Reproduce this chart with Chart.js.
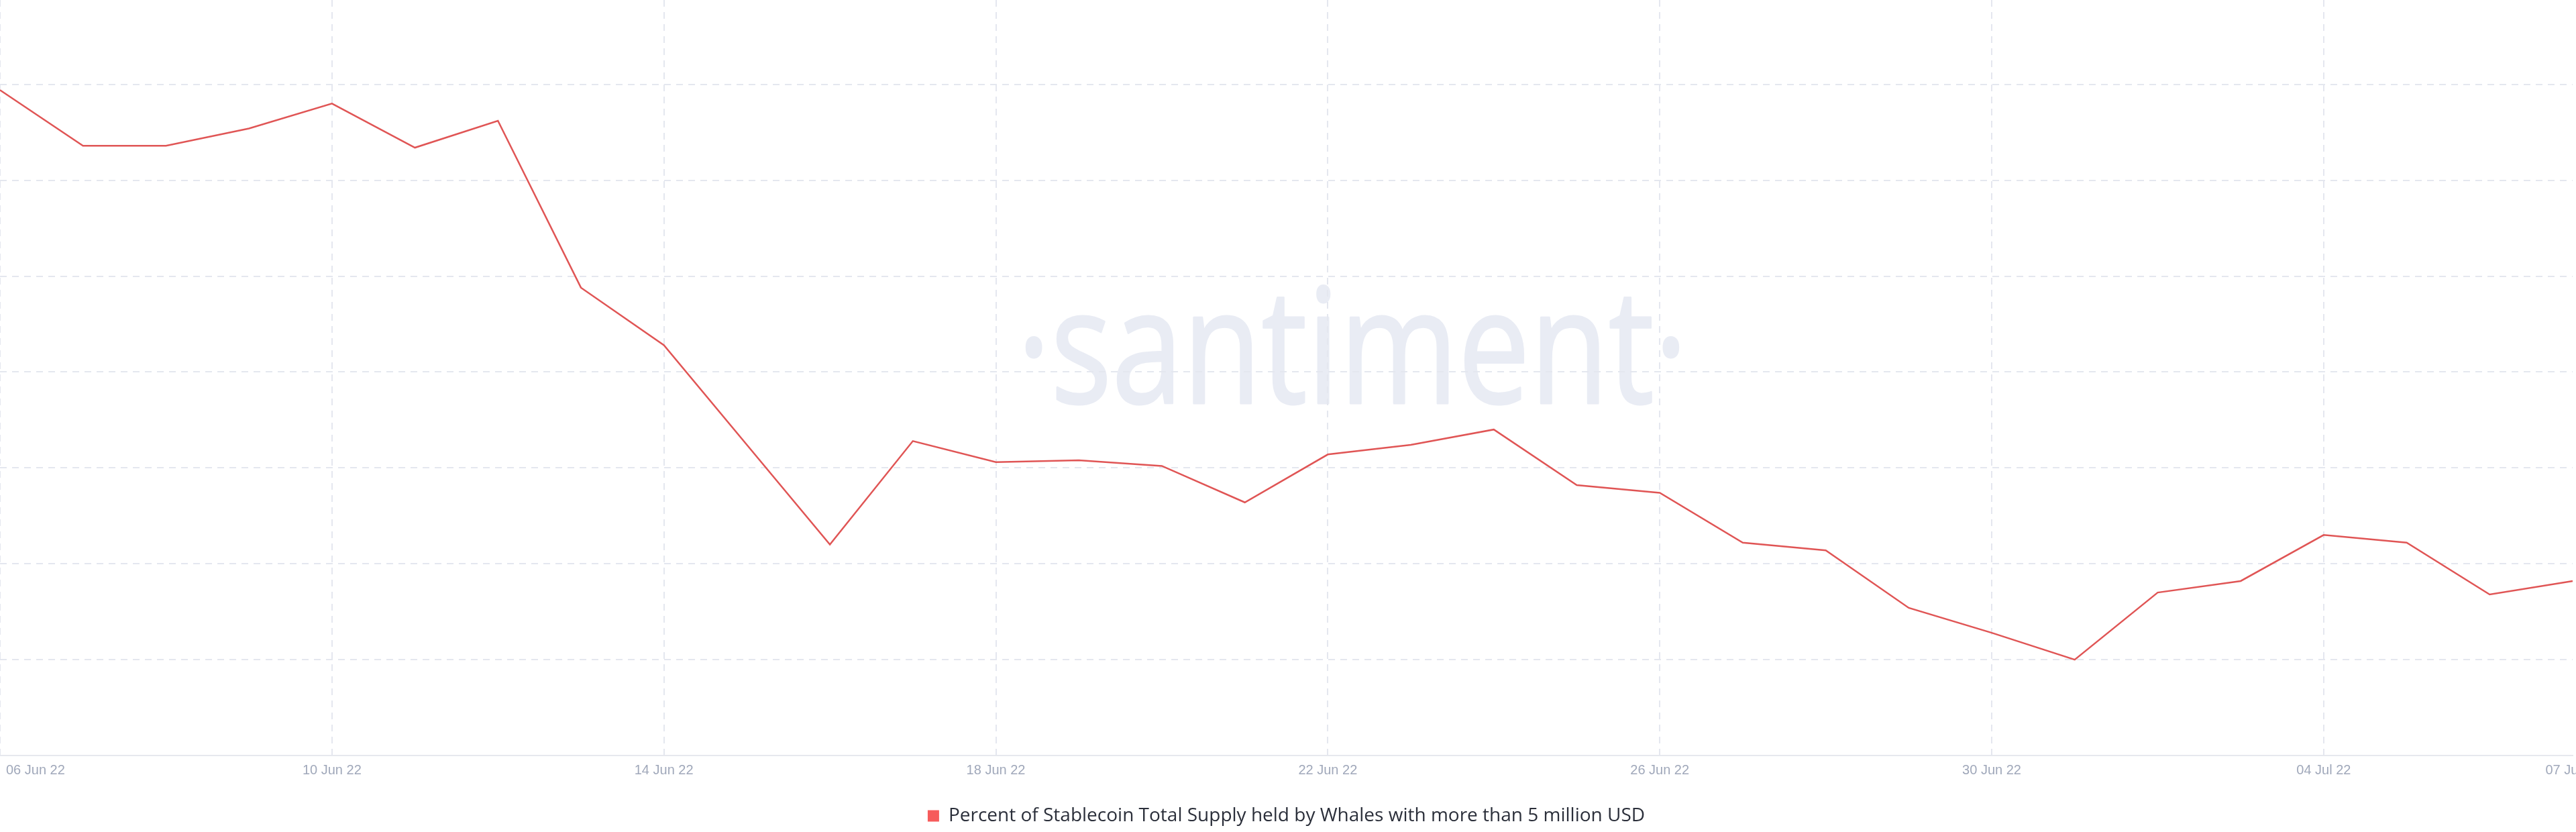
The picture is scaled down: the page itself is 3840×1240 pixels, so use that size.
<!DOCTYPE html>
<html>
<head>
<meta charset="utf-8">
<script src="https://cdn.jsdelivr.net/npm/chart.js@4.4.1/dist/chart.umd.min.js"></script>
<style>
    html, body { margin: 0; padding: 0; background: #ffffff; overflow: hidden; }
    #wrap { position: relative; width: 3840px; height: 1240px; overflow: hidden; }
    #chart { position: absolute; left: -60px; top: 0; }
</style>
</head>
<body>
<div id="wrap"><canvas id="chart" width="3960" height="1240"></canvas></div>
<script>
const dates = [
    "06 Jun 22", "07 Jun 22", "08 Jun 22", "09 Jun 22", "10 Jun 22", "11 Jun 22",
    "12 Jun 22", "13 Jun 22", "14 Jun 22", "15 Jun 22", "16 Jun 22", "17 Jun 22",
    "18 Jun 22", "19 Jun 22", "20 Jun 22", "21 Jun 22", "22 Jun 22", "23 Jun 22",
    "24 Jun 22", "25 Jun 22", "26 Jun 22", "27 Jun 22", "28 Jun 22", "29 Jun 22",
    "30 Jun 22", "01 Jul 22", "02 Jul 22", "03 Jul 22", "04 Jul 22", "05 Jul 22",
    "06 Jul 22", "07 Jul 22",
];

const whalePercent = [
    48.47, 48.18, 48.18, 48.27, 48.40, 48.17, 48.31, 47.44,
    47.14, 46.62, 46.10, 46.64, 46.53, 46.54, 46.51, 46.32,
    46.57, 46.62, 46.70, 46.41, 46.37, 46.11, 46.07, 45.77,
    45.64, 45.50, 45.85, 45.91, 46.15, 46.11, 45.84, 45.91,
];

const seriesLabel = "Percent of Stablecoin Total Supply held by Whales with more than 5 million USD";
const yMin = 45;
const yMax = 48.94;
const yStep = 0.5;
const labelEvery = 4;

const gridColor = "#e4e7ef";

const watermark = {
    id: "watermark",
    beforeDraw(chart) {
        const { ctx } = chart;
        ctx.save();
        ctx.font = "400 238px 'Open Sans'";
        ctx.fillStyle = "#e9ecf4";
        ctx.strokeStyle = "#e9ecf4";
        ctx.lineWidth = 3;
        ctx.lineJoin = "round";
        ctx.textAlign = "center";
        ctx.textBaseline = "alphabetic";
        const text = "·santiment·";
        const w = ctx.measureText(text).width;
        ctx.translate(2076, 601);
        ctx.scale(1000 / w, 1);
        ctx.fillText(text, 0, 0);
        ctx.strokeText(text, 0, 0);
        ctx.restore();

        // first date label sits left-aligned inside the plot
        const x = chart.scales.x;
        const items = x.getLabelItems();
        if (items.length) {
            items[0].options.textAlign = "left";
            items[0].options.translation[0] = x.left + 9;
        }
    },
};

new Chart(document.getElementById("chart"), {
    type: "line",
    data: {
        labels: dates,
        datasets: [
            {
                label: seriesLabel,
                data: whalePercent,
                borderColor: "#e05555",
                backgroundColor: "#f65b5b",
                borderWidth: 2.5,
                pointRadius: 0,
                tension: 0,
            },
        ],
    },
    options: {
        responsive: false,
        animation: false,
        devicePixelRatio: 1,
        layout: { padding: { left: 60, right: 65, top: 0, bottom: 0 } },
        scales: {
            x: {
                offset: false,
                afterFit: (scale) => {
                    scale.height += 22;
                },
                grid: {
                    color: (ctx) =>
                        ctx.index % labelEvery === 0 && ctx.index < dates.length - 1
                            ? gridColor
                            : "transparent",
                    lineWidth: 2,
                    drawTicks: false,
                },
                border: { color: "#e6e8ee", width: 2, dash: [10, 8] },
                ticks: {
                    autoSkip: false,
                    maxRotation: 0,
                    padding: 10,
                    color: "#a0a8ba",
                    font: { family: "'Liberation Sans', Arial", size: 20 },
                    callback: function (value, index) {
                        if (index % labelEvery === 0 || index === dates.length - 1) {
                            return dates[index];
                        }
                        return "";
                    },
                },
            },
            y: {
                min: yMin,
                max: yMax,
                afterBuildTicks: (scale) => {
                    scale.ticks = scale.ticks.filter(
                        (t) => Math.abs(t.value / yStep - Math.round(t.value / yStep)) < 1e-6
                    );
                },
                ticks: { display: false, stepSize: yStep },
                grid: { color: gridColor, lineWidth: 2, drawTicks: false },
                border: { display: false, dash: [10, 8] },
            },
        },
        plugins: {
            tooltip: { enabled: false },
            legend: {
                position: "bottom",
                labels: {
                    boxWidth: 17,
                    boxHeight: 17,
                    padding: 10,
                    color: "#2b2f3a",
                    font: { family: "'Open Sans', Arial", size: 28 },
                    generateLabels: (chart) =>
                        Chart.defaults.plugins.legend.labels
                            .generateLabels(chart)
                            .map((item) => ({ ...item, lineWidth: 0, fillStyle: "#f65b5b" })),
                },
            },
        },
    },
    plugins: [watermark],
});
</script>
</body>
</html>
